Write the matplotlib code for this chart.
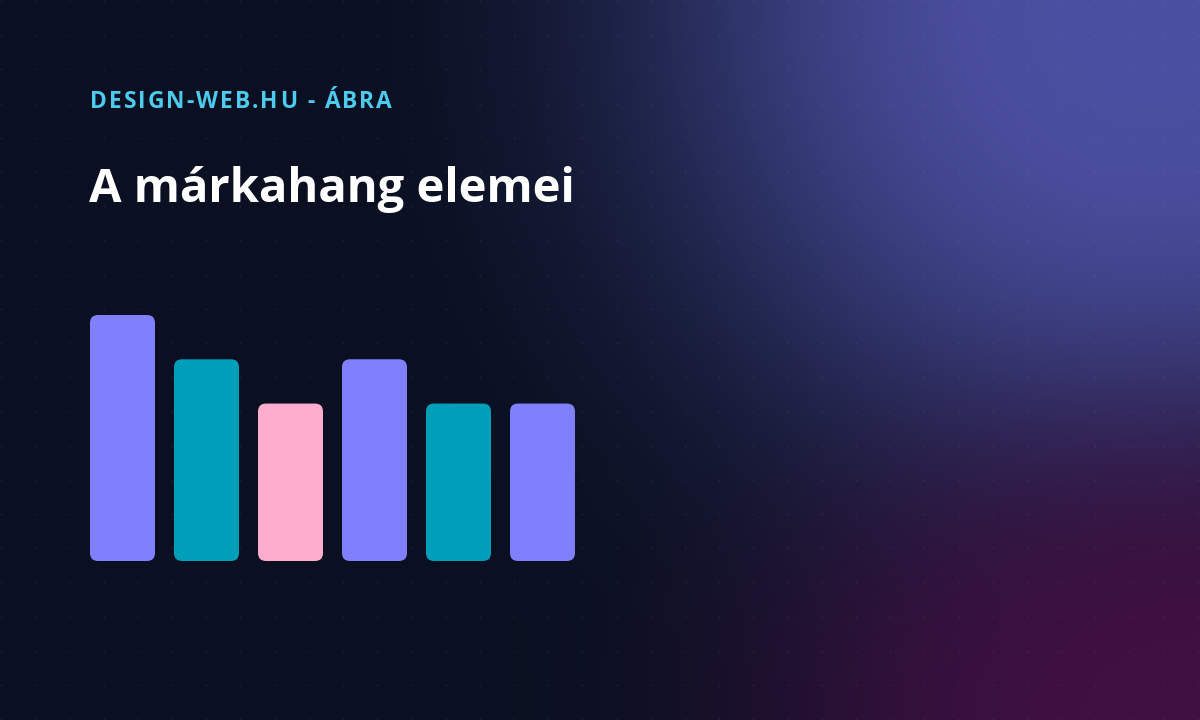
import numpy as np
import matplotlib
matplotlib.use("Agg")
import matplotlib.pyplot as plt
from matplotlib.patches import FancyBboxPatch
from matplotlib import font_manager
from matplotlib.font_manager import FontProperties
from matplotlib.ft2font import FT2Font

# ---- data ----
categories = ["1", "2", "3", "4", "5", "6"]
values = [100, 82, 64, 82, 64, 64]
bar_colors = ["#8080ff", "#009fb9", "#ffadcf", "#8080ff", "#009fb9", "#8080ff"]
kicker = "DESIGN-WEB.HU - ÁBRA"
title = "A márkahang elemei"

W, H = 1200, 720
DPI = 100
fig = plt.figure(figsize=(12, 7.2), dpi=DPI)

# ---- background ----
yy, xx = np.mgrid[0:H, 0:W].astype(float)
base = np.array([10, 16, 33]) / 255.0
c1 = np.array([76, 80, 162]) / 255.0
c2 = np.array([64, 16, 66]) / 255.0

d1 = np.sqrt(((xx - 1150) / 500.0) ** 2 + ((yy - 0) / 500.0) ** 2)
a1 = np.exp(-d1 ** 3)
d2 = np.sqrt(((xx - 1200) / 431.0) ** 2 + ((yy - 720) / 290.0) ** 2)
a2 = np.exp(-d2 ** 3)

img = base[None, None, :] * np.ones((H, W, 3))
img = img * (1 - a1[..., None]) + c1[None, None, :] * a1[..., None]
img = img * (1 - a2[..., None]) + c2[None, None, :] * a2[..., None]

ax_bg = fig.add_axes([0, 0, 1, 1])
ax_bg.imshow(img, extent=[0, W, H, 0], aspect="auto", interpolation="bilinear")
gx, gy = np.meshgrid(np.arange(1, W, 34.2), np.arange(1, H, 34.2))
ax_bg.scatter(gx.ravel(), gy.ravel(), s=1.6, color="white", alpha=0.07, linewidths=0)
ax_bg.set_xlim(0, W)
ax_bg.set_ylim(H, 0)
ax_bg.axis("off")

# ---- bars ----
left, right, bottom, top = 90, 575, 561, 315
ax = fig.add_axes([left / W, (H - bottom) / H, (right - left) / W, (bottom - top) / H])
ax.patch.set_alpha(0)
x = np.arange(len(values))
bw = 65 / 84
bars = ax.bar(x, values, width=bw, color=bar_colors)
ax.set_xlim(-bw / 2, len(values) - 1 + bw / 2)
ax.set_ylim(0, max(values))
ax.axis("off")

px_per_x = (right - left) / (len(values) - 1 + bw)
px_per_y = (bottom - top) / max(values)
radius_px = 8
aspect = px_per_x / px_per_y
for b, col in zip(bars, bar_colors):
    bx, by = b.get_x(), b.get_y()
    w, h = b.get_width(), b.get_height()
    b.set_visible(False)
    p = FancyBboxPatch((bx, by), w, h,
                       boxstyle=f"round,pad=0,rounding_size={radius_px / px_per_x}",
                       mutation_aspect=aspect, facecolor=col, edgecolor="none",
                       clip_on=False)
    ax.add_patch(p)

# ---- text ----
fam = ["Open Sans", "DejaVu Sans"]
k_size = 16.4
k_spacing = 2.0  # px letter spacing
fpath = font_manager.findfont(FontProperties(family="Open Sans", weight="bold"))
ft = FT2Font(fpath)
ft.set_size(k_size, DPI)
cx = 90.0
for ch in kicker:
    ax_bg.text(cx, 108, ch, color="#4ccbef", fontsize=k_size, fontweight="bold",
               family=fam, va="baseline", ha="left")
    g = ft.load_char(ord(ch))
    cx += g.linearHoriAdvance / 65536.0 + k_spacing

ax_bg.text(89, 202, title, color="white", fontsize=33.9, fontweight="bold",
           family=fam, va="baseline", ha="left")

fig.savefig("out.png", dpi=DPI)
